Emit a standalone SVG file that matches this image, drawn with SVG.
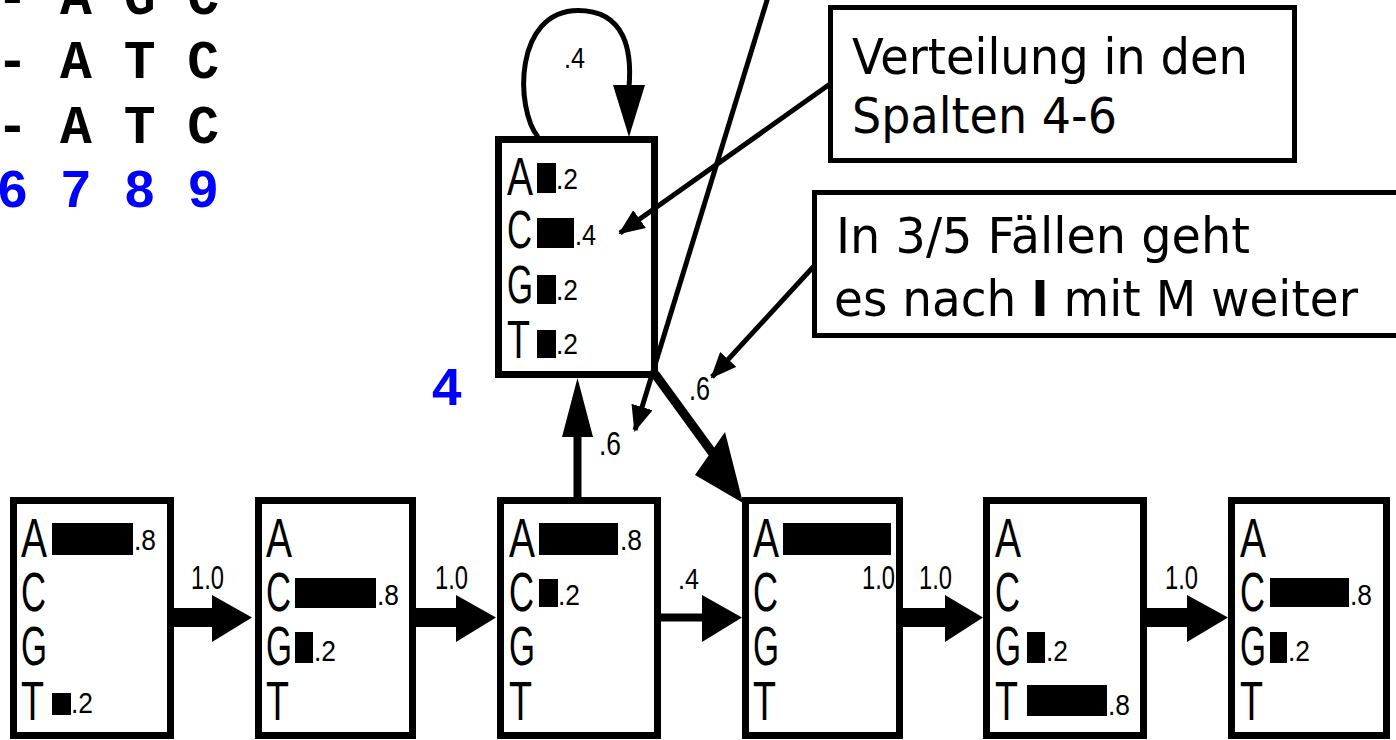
<svg xmlns="http://www.w3.org/2000/svg" width="1396" height="740" viewBox="0 0 1396 740">
<style>
.box{fill:#fff;stroke:#000;stroke-width:7}
.cbox{fill:#fff;stroke:#000;stroke-width:5}
.lt{font-family:"Liberation Sans",Arial,sans-serif;font-size:56px;fill:#000}
.lti{font-family:"Liberation Sans",Arial,sans-serif;font-size:53px;fill:#000}
.val{font-family:"Liberation Sans",Arial,sans-serif;font-size:29px;fill:#000}
.edge{font-family:"Liberation Sans",Arial,sans-serif;font-size:33px;fill:#000}
.call{font-family:"DejaVu Sans","Liberation Sans",sans-serif;font-size:50px;fill:#000}
.mono{font-family:"Liberation Mono","Courier New",monospace;font-weight:bold;font-size:53px}
.bar{fill:#000}
.thin{stroke:#000;stroke-width:5;fill:none}
</style>
<defs>
<marker id="sh" markerUnits="userSpaceOnUse" markerWidth="26" markerHeight="22" viewBox="0 0 26 22" refX="24" refY="11" orient="auto">
<path d="M0,0 L26,11 L0,22 Z" fill="#000"/>
</marker>
</defs>

<!-- alignment text -->
<g id="alignment">
<text class="mono" x="-3.5" y="14" fill="#000">- A G C</text>
<text class="mono" x="-3.5" y="78" fill="#000">- A T C</text>
<text class="mono" x="-3.5" y="143" fill="#000">- A T C</text>
<text class="mono" x="-3.5" y="207" fill="#0000ff">6 7 8 9</text>
<text class="mono" x="447" y="405" fill="#0000ff" text-anchor="middle" font-size="56">4</text>
</g>

<!-- insert state -->
<g id="insert">
<rect class="box" x="498.5" y="139.5" width="156" height="235"/>
<text class="lti" x="507" y="195" textLength="26" lengthAdjust="spacingAndGlyphs">A</text>
<text class="lti" x="507" y="248" textLength="25" lengthAdjust="spacingAndGlyphs">C</text>
<text class="lti" x="507" y="303" textLength="26" lengthAdjust="spacingAndGlyphs">G</text>
<text class="lti" x="507" y="358" textLength="23" lengthAdjust="spacingAndGlyphs">T</text>
<rect class="bar" x="537" y="163" width="19" height="30"/>
<rect class="bar" x="537" y="218" width="37" height="30"/>
<rect class="bar" x="537" y="275" width="19" height="29"/>
<rect class="bar" x="537" y="330" width="19" height="28"/>
<text class="val" x="556" y="189" textLength="22" lengthAdjust="spacingAndGlyphs">.2</text>
<text class="val" x="575" y="245" textLength="21" lengthAdjust="spacingAndGlyphs">.4</text>
<text class="val" x="556" y="300" textLength="22" lengthAdjust="spacingAndGlyphs">.2</text>
<text class="val" x="556" y="354" textLength="22" lengthAdjust="spacingAndGlyphs">.2</text>
</g>

<!-- match states -->
<g id="m1">
<rect class="box" x="13.5" y="500.5" width="157" height="235"/>
<text class="lt" x="21" y="557" textLength="26" lengthAdjust="spacingAndGlyphs">A</text>
<text class="lt" x="21" y="611" textLength="25" lengthAdjust="spacingAndGlyphs">C</text>
<text class="lt" x="21" y="665" textLength="26" lengthAdjust="spacingAndGlyphs">G</text>
<text class="lt" x="21" y="720" textLength="23" lengthAdjust="spacingAndGlyphs">T</text>
<rect class="bar" x="52" y="523" width="81" height="32"/>
<rect class="bar" x="52" y="693" width="19" height="22"/>
<text class="val" x="134" y="550" textLength="22" lengthAdjust="spacingAndGlyphs">.8</text>
<text class="val" x="71" y="713" textLength="22" lengthAdjust="spacingAndGlyphs">.2</text>
</g>

<g id="m2">
<rect class="box" x="258.5" y="500.5" width="154" height="235"/>
<text class="lt" x="266" y="557" textLength="26" lengthAdjust="spacingAndGlyphs">A</text>
<text class="lt" x="266" y="611" textLength="25" lengthAdjust="spacingAndGlyphs">C</text>
<text class="lt" x="266" y="665" textLength="26" lengthAdjust="spacingAndGlyphs">G</text>
<text class="lt" x="266" y="720" textLength="23" lengthAdjust="spacingAndGlyphs">T</text>
<rect class="bar" x="295" y="578" width="81" height="30"/>
<rect class="bar" x="295" y="632" width="18" height="31"/>
<text class="val" x="377" y="605" textLength="22" lengthAdjust="spacingAndGlyphs">.8</text>
<text class="val" x="314" y="661" textLength="22" lengthAdjust="spacingAndGlyphs">.2</text>
</g>

<g id="m3">
<rect class="box" x="500.5" y="500.5" width="157" height="235"/>
<text class="lt" x="509" y="557" textLength="26" lengthAdjust="spacingAndGlyphs">A</text>
<text class="lt" x="509" y="611" textLength="25" lengthAdjust="spacingAndGlyphs">C</text>
<text class="lt" x="509" y="665" textLength="26" lengthAdjust="spacingAndGlyphs">G</text>
<text class="lt" x="509" y="720" textLength="23" lengthAdjust="spacingAndGlyphs">T</text>
<rect class="bar" x="539" y="523" width="79" height="32"/>
<rect class="bar" x="539" y="579" width="19" height="28"/>
<text class="val" x="620" y="550" textLength="22" lengthAdjust="spacingAndGlyphs">.8</text>
<text class="val" x="558" y="605" textLength="22" lengthAdjust="spacingAndGlyphs">.2</text>
</g>

<g id="m4">
<rect class="box" x="745.5" y="500.5" width="154" height="235"/>
<text class="lt" x="753" y="557" textLength="26" lengthAdjust="spacingAndGlyphs">A</text>
<text class="lt" x="753" y="611" textLength="25" lengthAdjust="spacingAndGlyphs">C</text>
<text class="lt" x="753" y="665" textLength="26" lengthAdjust="spacingAndGlyphs">G</text>
<text class="lt" x="753" y="720" textLength="23" lengthAdjust="spacingAndGlyphs">T</text>
<rect class="bar" x="783" y="523" width="108" height="32"/>
<text class="edge" x="862" y="589" font-size="31" textLength="33" lengthAdjust="spacingAndGlyphs">1.0</text>
</g>

<g id="m5">
<rect class="box" x="986.5" y="500.5" width="157" height="235"/>
<text class="lt" x="995" y="557" textLength="26" lengthAdjust="spacingAndGlyphs">A</text>
<text class="lt" x="995" y="611" textLength="25" lengthAdjust="spacingAndGlyphs">C</text>
<text class="lt" x="995" y="665" textLength="26" lengthAdjust="spacingAndGlyphs">G</text>
<text class="lt" x="995" y="720" textLength="23" lengthAdjust="spacingAndGlyphs">T</text>
<rect class="bar" x="1027" y="632" width="18" height="31"/>
<rect class="bar" x="1027" y="685" width="80" height="31"/>
<text class="val" x="1046" y="661" textLength="22" lengthAdjust="spacingAndGlyphs">.2</text>
<text class="val" x="1108" y="715" textLength="22" lengthAdjust="spacingAndGlyphs">.8</text>
</g>

<g id="m6">
<rect class="box" x="1231.5" y="500.5" width="155" height="235"/>
<text class="lt" x="1240" y="557" textLength="26" lengthAdjust="spacingAndGlyphs">A</text>
<text class="lt" x="1240" y="611" textLength="25" lengthAdjust="spacingAndGlyphs">C</text>
<text class="lt" x="1240" y="665" textLength="26" lengthAdjust="spacingAndGlyphs">G</text>
<text class="lt" x="1240" y="720" textLength="23" lengthAdjust="spacingAndGlyphs">T</text>
<rect class="bar" x="1270" y="578" width="79" height="29"/>
<rect class="bar" x="1270" y="632" width="17" height="31"/>
<text class="val" x="1350" y="605" textLength="22" lengthAdjust="spacingAndGlyphs">.8</text>
<text class="val" x="1288" y="661" textLength="22" lengthAdjust="spacingAndGlyphs">.2</text>
</g>

<!-- callouts -->
<g id="callout1">
<rect class="cbox" x="830.5" y="7.5" width="464" height="153"/>
<text class="call" x="852" y="74" textLength="396" lengthAdjust="spacingAndGlyphs">Verteilung in den</text>
<text class="call" x="852" y="133" textLength="265" lengthAdjust="spacingAndGlyphs">Spalten 4-6</text>
</g>
<g id="callout2">
<rect class="cbox" x="814.5" y="192.5" width="600" height="143"/>
<text class="call" x="836" y="253" textLength="414" lengthAdjust="spacingAndGlyphs">In 3/5 Fällen geht</text>
<text class="call" x="834" y="316" textLength="524" lengthAdjust="spacingAndGlyphs">es nach <tspan font-weight="bold">I</tspan> mit M weiter</text>
</g>

<!-- connectors -->
<g id="connectors">
<!-- horizontal transitions -->
<rect x="172" y="608" width="42" height="19" fill="#000"/>
<polygon points="212,595 252,617.5 212,642" fill="#000"/>
<rect x="414" y="608" width="44" height="19" fill="#000"/>
<polygon points="456,595 496,617.5 456,642" fill="#000"/>
<rect x="659" y="613.5" width="45" height="8" fill="#000"/>
<polygon points="702,595 742,617.5 702,642" fill="#000"/>
<rect x="901" y="608" width="46" height="19" fill="#000"/>
<polygon points="945,595 983,617.5 945,642" fill="#000"/>
<rect x="1145" y="608" width="44" height="19" fill="#000"/>
<polygon points="1187,595 1228,617.5 1187,642" fill="#000"/>
<!-- box3 to insert -->
<rect x="573.5" y="435" width="8" height="63" fill="#000"/>
<polygon points="562,437 593,437 577.5,378" fill="#000"/>
<!-- insert to box4 -->
<line x1="655" y1="374" x2="714" y2="455" stroke="#000" stroke-width="9"/>
<polygon points="695,475 725,432 743,503" fill="#000"/>
<!-- self loop -->
<path class="thin" d="M538,137 C515,108 514,11 578,10.5 C626,10.5 632,52 629,87"/>
<polygon points="613,85 645,85 629,137" fill="#000"/>
<!-- callout leaders -->
<line class="thin" x1="830" y1="84" x2="620" y2="233" marker-end="url(#sh)"/>
<line class="thin" x1="814" y1="266" x2="712" y2="377" marker-end="url(#sh)"/>
<line class="thin" x1="768" y1="-3" x2="635" y2="430" marker-end="url(#sh)"/>
<!-- labels -->
<text class="edge" x="191" y="589" textLength="33" lengthAdjust="spacingAndGlyphs">1.0</text>
<text class="edge" x="435" y="589" textLength="33" lengthAdjust="spacingAndGlyphs">1.0</text>
<text class="val" x="678" y="589" textLength="21" lengthAdjust="spacingAndGlyphs">.4</text>
<text class="edge" x="919" y="589" textLength="33" lengthAdjust="spacingAndGlyphs">1.0</text>
<text class="edge" x="1165" y="589" textLength="33" lengthAdjust="spacingAndGlyphs">1.0</text>
<text class="val" x="564" y="68" textLength="21" lengthAdjust="spacingAndGlyphs">.4</text>
<text class="edge" x="599" y="455" font-size="37" textLength="22" lengthAdjust="spacingAndGlyphs">.6</text>
<text class="edge" x="689" y="400" font-size="37" textLength="21" lengthAdjust="spacingAndGlyphs">.6</text>
</g>
</svg>
